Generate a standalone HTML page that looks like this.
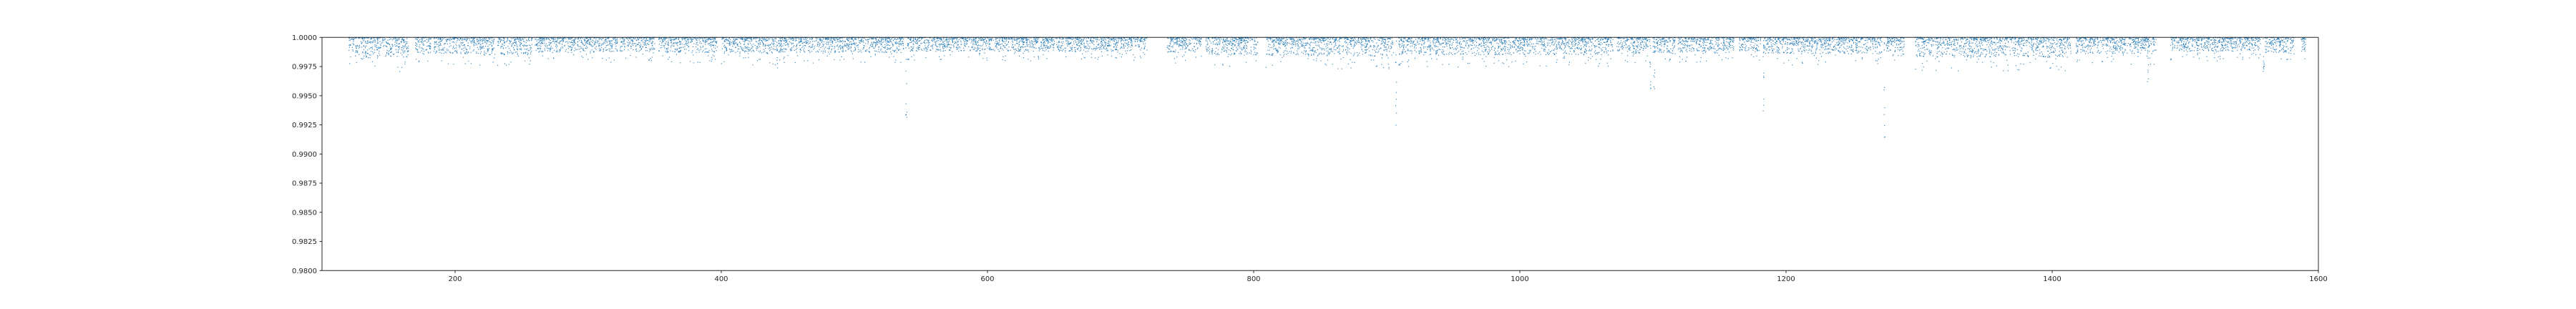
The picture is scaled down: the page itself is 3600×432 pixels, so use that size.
<!DOCTYPE html>
<html><head><meta charset="utf-8">
<style>
html,body{margin:0;padding:0;background:#fff;}
svg{display:block;}
text{font-family:"DejaVu Sans","Liberation Sans",sans-serif;font-size:10px;fill:#262626;}
</style></head>
<body>
<svg id="chart" width="3600" height="432" viewBox="0 0 3600 432" xmlns="http://www.w3.org/2000/svg">
  <rect x="0" y="0" width="3600" height="432" fill="#fff"/>
  <g id="marks"></g>
  <g id="axes"></g>
</svg>
<script>
// ---- data ----
const segStart = [120,170,184,232,260,292,324,353,400,443,540,735,764,809,909,1073,1100,1119,1165,1183,1275,1297,1418,1489,1560,1587];
const segEnd   = [165,182,230,258,291,322,350,397,442,537,720,761,803,905,1070,1098,1117,1161,1181,1272,1289,1414,1478,1557,1582,1591];
const segDepth = [0.0018,0.0014,0.0014,0.0015,0.0013,0.0013,0.0012,0.0013,0.0014,0.0013,0.0012,0.0013,0.0015,0.0016,0.0015,0.0014,0.0013,0.0013,0.0012,0.0014,0.0013,0.0017,0.0014,0.0012,0.0013,0.0012];
const dipX   = [442,539,907,1098,1101,1183,1274,1472,1559];
const dipMin = [0.99738,0.99314,0.99247,0.9956,0.9956,0.9937,0.99143,0.9962,0.9971];
const xTicks = [200,400,600,800,1000,1200,1400,1600];
const yTicks = [0.98,0.9825,0.985,0.9875,0.99,0.9925,0.995,0.9975,1.0];
const xTickLabels = ["200","400","600","800","1000","1200","1400","1600"];
const yTickLabels = ["0.9800","0.9825","0.9850","0.9875","0.9900","0.9925","0.9950","0.9975","1.0000"];
const xDomain = [100,1600];
const yDomain = [0.98,1.0];

// ---- scales ----
const L=450,R=3240,T=52.3,B=378.3;
const sx = v => L + (v-xDomain[0])/(xDomain[1]-xDomain[0])*(R-L);
const sy = v => B - (v-yDomain[0])/(yDomain[1]-yDomain[0])*(B-T);
const NS="http://www.w3.org/2000/svg";
const marks=document.getElementById('marks');
const axes=document.getElementById('axes');

// deterministic hash texture for scatter spread
let seed=12345;
function h(){seed=(seed*1103515245+12345)%2147483648;return seed/2147483648;}

function pt(x,y){
  const r=document.createElementNS(NS,'rect');
  
  
  r.setAttribute('x',(sx(x)-0.6).toFixed(1));
  r.setAttribute('y',(sy(y)-0.6).toFixed(1));
  r.setAttribute('width','1.2');r.setAttribute('height','1.2');
  r.setAttribute('fill','#1f77b4');
  r.setAttribute('fill-opacity','0.85');
  marks.appendChild(r);
}
for(let i=0;i<segStart.length;i++){
  const n=Math.round((segEnd[i]-segStart[i])*8);
  for(let k=0;k<n;k++){
    const x=segStart[i]+(segEnd[i]-segStart[i])*h();
    const u=h();
    let d=segDepth[i]*Math.pow(u,1.7);
    if(h()<0.04) d=segDepth[i]*(1+0.7*h());
    pt(x,1-d);
  }
}
for(let i=0;i<dipX.length;i++){
  const depth=1-dipMin[i];
  for(let k=0;k<10;k++){
    pt(dipX[i]+(h()-0.5)*0.8, 1-depth*(k===9?1:Math.pow(h(),0.8)));
  }
}

// ---- axes ----
function line(x1,y1,x2,y2,name){
  const l=document.createElementNS(NS,'line');
  
  
  l.setAttribute('x1',x1);l.setAttribute('y1',y1);l.setAttribute('x2',x2);l.setAttribute('y2',y2);
  l.setAttribute('stroke','#262626');l.setAttribute('stroke-width','1');
  axes.appendChild(l);
}
function txt(x,y,s,anchor,name){
  const t=document.createElementNS(NS,'text');
  
  
  t.setAttribute('x',x);t.setAttribute('y',y);t.setAttribute('text-anchor',anchor);
  t.textContent=s;axes.appendChild(t);
}
line(L,T,R,T,'top-spine');line(L,B,R,B,'x-axis-line');
line(L,T,L,B,'y-axis-line');line(R,T,R,B,'right-spine');
xTicks.forEach((v,i)=>{const x=sx(v);line(x,B,x,B+3.5,'x-tick');txt(x,B+14.5,xTickLabels[i],'middle','x-tick-label');});
yTicks.forEach((v,i)=>{const y=sy(v);line(L-3.5,y,L,y,'y-tick');txt(L-7,y+3.6,yTickLabels[i],'end','y-tick-label');});
</script>
</body></html>
